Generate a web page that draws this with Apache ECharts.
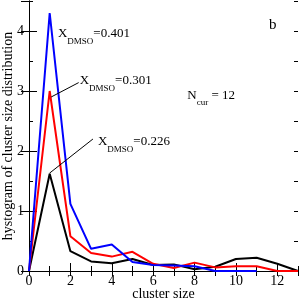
<!DOCTYPE html>
<html>
<head>
<meta charset="utf-8">
<script src="https://cdn.jsdelivr.net/npm/echarts@6/dist/echarts.min.js"></script>
<style>html,body{margin:0;padding:0;background:#fff;}#c{width:301px;height:300px;}</style>
</head>
<body>
<div id="c"></div>
<script>
var clusterSizes = [0,1,2,3,4,5,6,7,8,9,10,11,12,13];
var blueVals  = [0, 4.30, 1.12, 0.37, 0.44, 0.15, 0.10, 0.09, 0.08, 0, 0, 0];
var redVals   = [0, 3.00, 0.58, 0.30, 0.24, 0.32, 0.12, 0.05, 0.14, 0.06, 0.08, 0.08, 0, 0];
var blackVals = [0, 1.62, 0.33, 0.16, 0.13, 0.20, 0.10, 0.11, 0.03, 0.07, 0.20, 0.22, 0.12, 0];
var xTicks = [0,2,4,6,8,10,12];
var yTicks = [0,1,2,3,4];

function pairs(vals){ return vals.map(function(v,i){ return [clusterSizes[i], v]; }); }

var FONT = '"Liberation Serif", "DejaVu Serif", serif';
var chart = echarts.init(document.getElementById('c'), null, {renderer:'canvas'});
var lineC = '#000';
function baseX(extra){ return Object.assign({type:'value', min:0, max:13, splitLine:{show:false},
  axisLine:{show:false}, axisLabel:{show:false}, axisTick:{show:true, inside:true, length:5, lineStyle:{color:lineC, width:1}}}, extra); }
function baseY(extra){ return Object.assign({type:'value', min:0, max:4.5, splitLine:{show:false},
  axisLine:{show:false}, axisLabel:{show:false}, axisTick:{show:true, inside:true, length:4, lineStyle:{color:lineC, width:1}}}, extra); }

var option = {
  animation:false,
  backgroundColor:'#fff',
  grid:{left:29, right:3, top:1, bottom:29, containLabel:false, outerBoundsMode:'none'},
  xAxis:[
    baseX({position:'bottom', interval:2,
      axisLine:{show:true, lineStyle:{color:lineC, width:1}},
      axisTick:{show:true, inside:true, length:8, lineStyle:{color:lineC, width:1}},
      axisLabel:{show:true, color:'#000', fontFamily:FONT, fontSize:14, margin:3, showMaxLabel:false,
        formatter:function(v){ return xTicks.indexOf(v) >= 0 ? String(v) : ''; }},
      name:'cluster size', nameLocation:'middle', nameGap:16, nameMoveOverlap:false,
      nameTextStyle:{color:'#000', fontFamily:FONT, fontSize:14}}),
    baseX({position:'bottom', interval:1}),
    baseX({position:'top', interval:1, axisLine:{show:true, lineStyle:{color:lineC, width:1}}})
  ],
  yAxis:[
    baseY({position:'left', interval:1,
      axisLine:{show:true, lineStyle:{color:lineC, width:1}},
      axisTick:{show:true, inside:true, length:8, lineStyle:{color:lineC, width:1}},
      axisLabel:{show:true, color:'#000', fontFamily:FONT, fontSize:14, margin:5, showMaxLabel:false,
        formatter:function(v){ return yTicks.indexOf(v) >= 0 ? String(v) : ''; }},
      name:'hystogram of cluster size distribution', nameLocation:'middle', nameGap:14, nameMoveOverlap:false,
      nameTextStyle:{color:'#000', fontFamily:FONT, fontSize:14}}),
    baseY({position:'left', interval:0.5}),
    baseY({position:'right', interval:1, axisLine:{show:true, lineStyle:{color:lineC, width:1}},
      axisTick:{show:true, inside:true, length:8, lineStyle:{color:lineC, width:1}}}),
    baseY({position:'right', interval:0.5})
  ],
  series:[
    {type:'line', name:'0.226', data:pairs(blackVals), symbol:'none', lineStyle:{color:'#000', width:2}, z:3},
    {type:'line', name:'0.301', data:pairs(redVals), symbol:'none', lineStyle:{color:'#ff0000', width:2}, z:4},
    {type:'line', name:'0.401', data:pairs(blueVals), symbol:'none', lineStyle:{color:'#0000ff', width:2}, z:5}
  ]
};
chart.setOption(option);

function px(x,y){ return chart.convertToPixel({xAxisIndex:0, yAxisIndex:0}, [x,y]); }
var rich = {
  m:{fontFamily:FONT, fontSize:13, color:'#000', lineHeight:24, verticalAlign:'middle'},
  s:{fontFamily:FONT, fontSize:9, color:'#000', lineHeight:8, verticalAlign:'bottom'}
};
function label(text, p){
  return {type:'text', x:p[0], y:p[1], z:10,
    style:{text:text, rich:rich, align:'left', verticalAlign:'middle'}};
}
var p1a = px(1.07, 2.90), p1b = px(2.40, 3.14);
var p2a = px(0.99, 1.63), p2b = px(3.09, 2.20);
chart.setOption({graphic:[
  label('{m|X}{s|DMSO}{m|=0.401}', px(1.40, 3.95)),
  label('{m|X}{s|DMSO}{m|=0.301}', px(2.45, 3.17)),
  label('{m|X}{s|DMSO}{m|=0.226}', px(3.33, 2.15)),
  label('{m|N}{s|cur}{m| = 12}', px(7.65, 2.93)),
  {type:'text', x:px(11.6,4.1)[0], y:px(11.6,4.1)[1], z:10,
    style:{text:'b', fontFamily:FONT, fontSize:15, fill:'#000', align:'left', verticalAlign:'middle'}},
  {type:'line', z:10, shape:{x1:p1a[0], y1:p1a[1], x2:p1b[0], y2:p1b[1]}, style:{stroke:'#000', lineWidth:1}},
  {type:'line', z:10, shape:{x1:p2a[0], y1:p2a[1], x2:p2b[0], y2:p2b[1]}, style:{stroke:'#000', lineWidth:1}}
]});
</script>
</body>
</html>
